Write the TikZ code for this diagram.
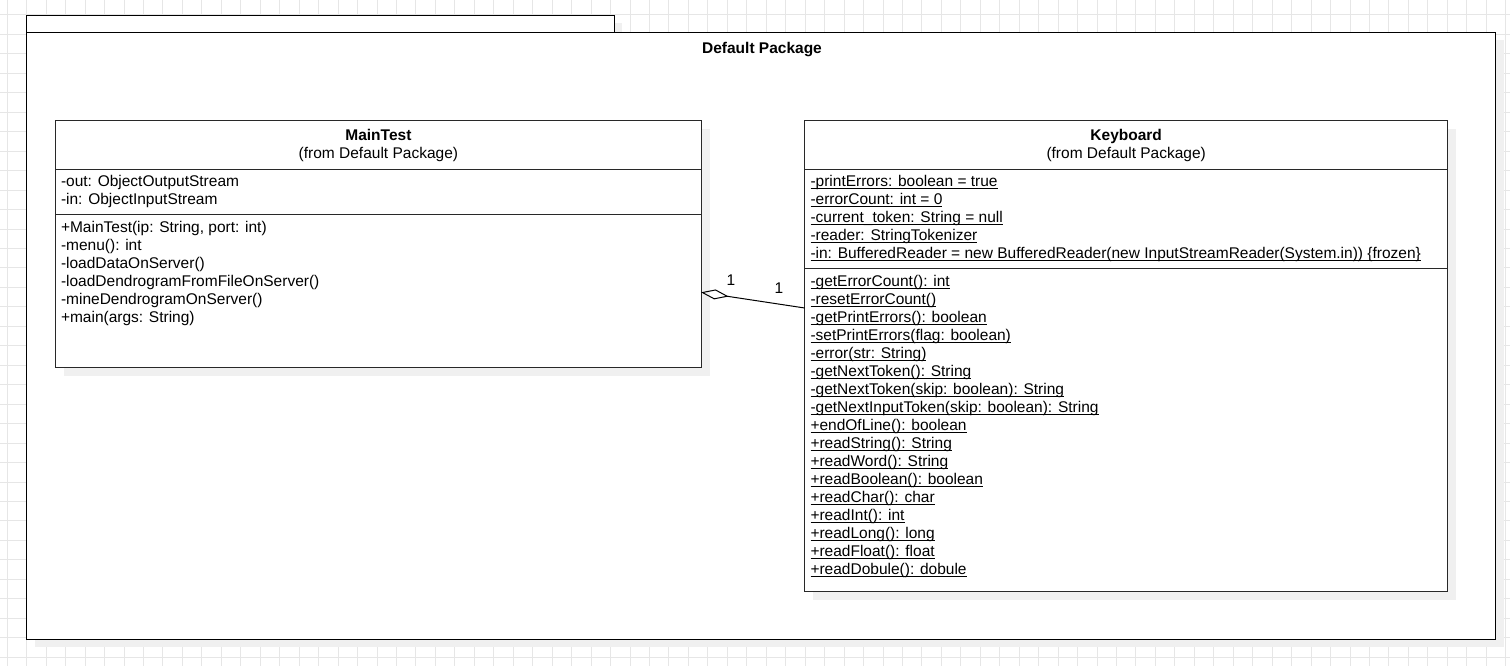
\documentclass[tikz,border=0pt]{standalone}
\usepackage{fontspec}
\setmainfont{Liberation Sans}
\usetikzlibrary{arrows.meta}
\definecolor{gridc}{RGB}{230,230,230}
\definecolor{shadowc}{RGB}{240,240,240}
\definecolor{linec}{RGB}{40,40,40}
\newcommand\myul[1]{\setbox0\hbox{#1}\rlap{\rule[-2.8pt]{\wd0}{0.9pt}}\box0}
\begin{document}
\begin{tikzpicture}[x=1pt,y=1pt,
  every node/.style={font=\fontsize{15.5}{18}\selectfont},
  gridline/.style={draw=gridc,line width=1pt},
  shadowbox/.style={fill=shadowc,draw=none},
  pkgbox/.style={draw=black,line width=1pt,fill=white,inner sep=0,outer sep=0},
  classbox/.style={draw=linec,line width=1pt,fill=white,inner sep=0,outer sep=0},
  sepline/.style={draw=linec,line width=1pt},
  member/.style={anchor=base west,inner sep=0,outer sep=0},
  ctitle/.style={font=\fontsize{15.5}{18}\selectfont\bfseries,inner sep=0,anchor=base},
  csub/.style={inner sep=0,anchor=base},
  aggr/.style={draw=black,line width=1pt,-{Diamond[open,length=28pt,width=10pt,line width=1pt]}},
  mult/.style={inner sep=0,anchor=base}]
\useasboundingbox (0,0) rectangle (1510,-666);
\fill[white] (0,0) rectangle (1510,-666);
% grid
\foreach \i in {0,...,77} \draw[gridline] ({7.3+19.46*\i},0) -- ({7.3+19.46*\i},-666);
\foreach \j in {0,...,33} \draw[gridline] (0,{-15-19.46*\j}) -- (1510,{-15-19.46*\j});
% package shadow
\fill[shadowbox] (34.7,-23) rectangle (622,-40);
\fill[shadowbox] (34.7,-40.3) rectangle (1504,-647.3);
% package
\node[pkgbox,minimum width=587.3pt,minimum height=17pt,anchor=north west] (tab) at (26.7,-15.5) {};
\node[pkgbox,minimum width=1469pt,minimum height=607pt,anchor=north west] (pkg) at (26.7,-32.3) {};
\node[ctitle] (pkgtitle) at (762,-53.5) {Default Package};
% MainTest
\fill[shadowbox] (64.2,-129.2) rectangle (709.5,-376.2);
\node[classbox,minimum width=645.3pt,minimum height=247pt,anchor=north west] (mt) at (55.7,-120.7) {};
\draw[sepline] (55.7,-169) -- (701,-169);
\draw[sepline] (55.7,-214) -- (701,-214);
\node[ctitle] (mtname) at (378.4,-140.5) {MainTest};
\node[csub] (mtfrom) at (378.4,-158.5) {(from Default Package)};
\foreach [count=\k] \t in {-out: ObjectOutputStream,-in: ObjectInputStream}
  \node[member] (mta\k) at (61,{-186.5-18*(\k-1)}) {\t};
\foreach [count=\k] \t in {{+MainTest(ip: String, port: int)},-menu(): int,-loadDataOnServer(),-loadDendrogramFromFileOnServer(),-mineDendrogramOnServer(),+main(args: String)}
  \node[member] (mtm\k) at (61,{-232.5-18*(\k-1)}) {\t};
% Keyboard
\fill[shadowbox] (812.7,-128.7) rectangle (1455.7,-599.7);
\node[classbox,minimum width=643pt,minimum height=471pt,anchor=north west] (kb) at (804.7,-120.7) {};
\draw[sepline] (804.7,-169) -- (1447.7,-169);
\draw[sepline] (804.7,-268) -- (1447.7,-268);
\node[ctitle] (kbname) at (1126.2,-140.5) {Keyboard};
\node[csub] (kbfrom) at (1126.2,-158.5) {(from Default Package)};
\foreach [count=\k] \t in {-printErrors: boolean = true,-errorCount: int = 0,-current\_token: String = null,-reader: StringTokenizer,-in: BufferedReader = new BufferedReader(new InputStreamReader(System.in)) \{frozen\}}
  \node[member] (kba\k) at (810.5,{-186.5-18*(\k-1)}) {\myul{\t}};
\foreach [count=\k] \t in {-getErrorCount(): int,-resetErrorCount(),-getPrintErrors(): boolean,-setPrintErrors(flag: boolean),-error(str: String),-getNextToken(): String,-getNextToken(skip: boolean): String,-getNextInputToken(skip: boolean): String,+endOfLine(): boolean,+readString(): String,+readWord(): String,+readBoolean(): boolean,+readChar(): char,+readInt(): int,+readLong(): long,+readFloat(): float,+readDobule(): dobule}
  \node[member] (kbm\k) at (810.5,{-286.5-18*(\k-1)}) {\myul{\t}};
% aggregation
\draw[aggr] ([yshift=48.2pt]kb.west) -- ([yshift=-48.1pt]mt.east);
\node[mult] (m1) at (731,-285.5) {1};
\node[mult] (m2) at (779,-293.8) {1};
\end{tikzpicture}
\end{document}
